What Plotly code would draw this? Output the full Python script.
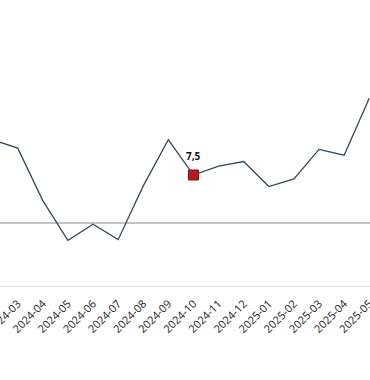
import plotly.graph_objects as go

months = ["2024-02", "2024-03", "2024-04", "2024-05", "2024-06", "2024-07", "2024-08",
          "2024-09", "2024-10", "2024-11", "2024-12", "2025-01", "2025-02", "2025-03",
          "2025-04", "2025-05"]
values = [13.0, 11.7, 3.5, -2.7, -0.2, -2.6, 5.8, 13.0, 7.5, 8.9, 9.6, 5.7, 6.9, 11.5, 10.6, 19.5]

highlight_month = "2024-10"
highlight_value = values[months.index(highlight_month)]
highlight_label = f"{highlight_value:.1f}".replace(".", ",")

fig = go.Figure()
fig.add_trace(go.Scatter(
    x=months, y=values, mode="lines",
    line=dict(color="#34495a", width=1.3),
    hoverinfo="skip", showlegend=False,
))
fig.add_trace(go.Scatter(
    x=[highlight_month], y=[highlight_value], mode="markers",
    marker=dict(symbol="square", size=10, color="#b51c1e", line=dict(color="#7a1010", width=1)),
    showlegend=False, cliponaxis=False, hoverinfo="skip",
))
fig.add_annotation(
    x=highlight_month, y=highlight_value, text=f"<b>{highlight_label}</b>",
    showarrow=False, yshift=19,
    font=dict(family="Open Sans", size=10, color="#111111"),
)

fig.update_layout(
    width=370, height=380,
    margin=dict(l=0, r=0, t=0, b=94),
    plot_bgcolor="white", paper_bgcolor="white",
    font=dict(family="Open Sans", size=11, color="#222222"),
)
fig.update_xaxes(
    type="category", range=[0.295, 15.03], automargin=False,
    tickangle=-45, showgrid=False, showline=True, linecolor="#dcdcdc", linewidth=1,
    ticks="", ticklabelstandoff=6, tickfont=dict(size=11, color="#222222"),
)
fig.update_yaxes(
    range=[-9.84, 34.84], showgrid=False, showticklabels=False, automargin=False,
    zeroline=True, zerolinecolor="#c4c4c4", zerolinewidth=1.5,
)

fig.write_html("out.html", config={"displayModeBar": False},
               post_script="document.body.style.margin='0px';document.body.style.overflow='hidden';")
